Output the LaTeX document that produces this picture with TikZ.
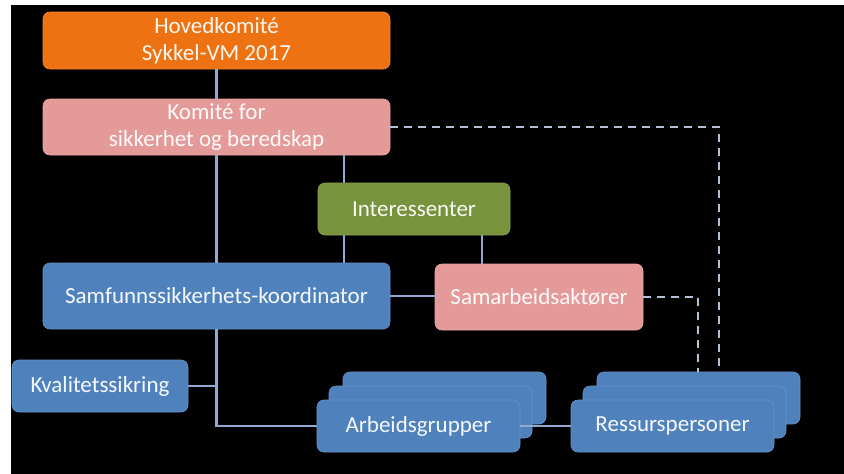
\documentclass[tikz,border=0pt]{standalone}
\usepackage{fontspec}
\setmainfont{Carlito}
\definecolor{cOrange}{HTML}{EE7112}
\definecolor{cPink}{HTML}{E39A98}
\definecolor{cGreen}{HTML}{77933C}
\definecolor{cBlue}{HTML}{4F81BD}
\definecolor{cLine}{HTML}{8EA9D4}
\definecolor{cDash}{HTML}{B4C2D8}
\tikzset{
  orgbox/.style={rounded corners=7pt, inner sep=0pt, align=center, text=white!95!#1,
    font=\fontsize{23}{27}\selectfont, draw=#1!85!white, line width=0.6pt, fill=#1},
  conn/.style={cLine, line width=2.2pt},
  dashconn/.style={cDash, line width=2.4pt, dash pattern=on 8pt off 6pt},
}
\begin{document}
\begin{tikzpicture}[x=1pt,y=-1pt]
\useasboundingbox (0,0) rectangle (844,474);
\fill[white] (0,0) rectangle (844,474);
\fill[black] (11,5) rectangle (844,474);

\node[orgbox=cOrange, minimum width=347pt, minimum height=57pt] (hov) at (216.5,40.5) {Hovedkomité\\Sykkel-VM 2017};
\node[orgbox=cPink, minimum width=347pt, minimum height=56pt] (kom) at (216.5,127) {Komité for\\sikkerhet og beredskap};
\node[orgbox=cGreen, minimum width=192pt, minimum height=52pt] (int) at (414,209) {Interessenter};
\node[orgbox=cBlue, minimum width=347pt, minimum height=66pt] (samf) at (216.5,296) {Samfunnssikkerhets-koordinator};
\node[orgbox=cPink, minimum width=208pt, minimum height=66pt] (sama) at (539,297) {Samarbeidsaktører};
\node[orgbox=cBlue, minimum width=176pt, minimum height=52pt] (kval) at (100,386) {Kvalitetssikring};

\node[orgbox=cBlue, minimum width=203pt, minimum height=52pt] (arbb) at (444.5,398) {};
\node[orgbox=cBlue, minimum width=203pt, minimum height=52pt] (arbm) at (430.5,412) {};
\node[orgbox=cBlue, minimum width=203pt, minimum height=52pt] (arbf) at (418.5,426) {Arbeidsgrupper};

\node[orgbox=cBlue, minimum width=203pt, minimum height=52pt] (resb) at (698.5,398) {};
\node[orgbox=cBlue, minimum width=203pt, minimum height=52pt] (resm) at (684.5,412) {};
\node[orgbox=cBlue, minimum width=203pt, minimum height=52pt] (resf) at (672.5,426) {Ressurspersoner};

\coordinate (xa) at (344,0);
\coordinate (xb) at (482,0);
\coordinate (xc) at (698,0);
\coordinate (xd) at (719,0);

\draw[conn] (hov.south) -- (kom.north);
\draw[conn] (kom.south) -- (samf.north);
\draw[conn] (samf.south) -- (samf.south |- arbf.west) -- (arbf.west);
\draw[conn] (kval.east) -- (kval.east -| samf.south);
\draw[conn] (kom.south -| xa) -- (int.north -| xa);
\draw[conn] (int.south -| xa) -- (samf.north -| xa);
\draw[conn] (int.south -| xb) -- (sama.north -| xb);
\draw[conn] (samf.east) -- (samf.east -| sama.west);
\draw[conn] (arbf.east) -- (resf.west);

\draw[dashconn] (kom.east) -| (resb.north -| xd);
\draw[dashconn] (sama.east) -| (resb.north -| xc);
\end{tikzpicture}
\end{document}
